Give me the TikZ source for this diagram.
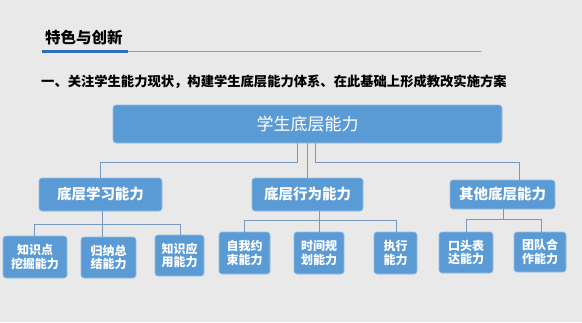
\documentclass[tikz,border=0pt]{standalone}
\usepackage{fontspec}
\setmainfont{Noto Sans CJK SC}
\definecolor{bg}{RGB}{233,233,233}
\definecolor{boxblue}{RGB}{91,155,213}
\definecolor{boxedge}{RGB}{150,190,228}
\definecolor{conn}{RGB}{120,152,190}
\definecolor{ttlblue}{RGB}{46,110,180}
\definecolor{thinblue}{RGB}{110,165,220}
\begin{document}
\begin{tikzpicture}[x=1pt,y=-1pt,
  box/.style={draw=boxedge,line width=0.6pt,fill=boxblue,rounded corners=3pt,text=white,inner sep=0pt,align=center},
  topbox/.style={box,font=\fontsize{17}{20}\selectfont},
  midbox/.style={box,font=\bfseries\fontsize{14.5}{17}\selectfont},
  leafbox/.style={box,font=\bfseries\fontsize{12}{13.5}\selectfont},
  link/.style={draw=conn,line width=1pt}]
\fill[bg] (0,0) rectangle (582,322);
\useasboundingbox (0,0) rectangle (582,322);
% title
\node[anchor=west,inner sep=0pt,font=\bfseries\fontsize{15.5}{18}\selectfont] (title) at (45,38) {特色与创新};
\coordinate (ulA) at (42,51.5);
\coordinate (ulB) at (128,51.5);
\coordinate (ulC) at (481,51.5);
\draw[thinblue,line width=1pt] (ulB) -- (ulC);
\draw[ttlblue,line width=3.5pt] (ulA) -- (ulB);
\node[anchor=west,inner sep=0pt,font=\bfseries\fontsize{13.3}{16}\selectfont] (sub) at (41,82) {一、关注学生能力现状，构建学生底层能力体系、在此基础上形成教改实施方案};
% boxes
\node[topbox,minimum width=389pt,minimum height=38pt] (top) at (307.5,124) {学生底层能力};
\node[midbox,minimum width=123pt,minimum height=33pt] (ma) at (100.5,194.5) {底层学习能力};
\node[midbox,minimum width=111pt,minimum height=33pt] (mb) at (307.5,194.5) {底层行为能力};
\node[midbox,minimum width=105pt,minimum height=29pt] (mc) at (502.5,194.5) {其他底层能力};
\node[leafbox,minimum width=64pt,minimum height=42pt] (a1) at (35,257) {知识点\\挖掘能力};
\node[leafbox,minimum width=55pt,minimum height=41pt] (a2) at (108.5,257.5) {归纳总\\结能力};
\node[leafbox,minimum width=49pt,minimum height=41pt] (a3) at (179.5,255.5) {知识应\\用能力};
\node[leafbox,minimum width=51pt,minimum height=42pt] (b1) at (244.5,253) {自我约\\束能力};
\node[leafbox,minimum width=50pt,minimum height=42pt] (b2) at (319,253) {时间规\\划能力};
\node[leafbox,minimum width=43pt,minimum height=42pt] (b3) at (395.5,253) {执行\\能力};
\node[leafbox,minimum width=54pt,minimum height=41pt] (c1) at (466,252.5) {口头表\\达能力};
\node[leafbox,minimum width=52pt,minimum height=40pt] (c2) at (540,252) {团队合\\作能力};
% connectors top -> mid
\draw[link] ([xshift=-10.5pt]top.south) -- ++(0,19) -| (ma.north);
\draw[link] (top.south) -- (mb.north);
\draw[link] ([xshift=7.5pt]top.south) -- ++(0,19) -| ([xshift=16.5pt]mc.north);
% mid a -> leaves
\draw[link] ([xshift=1.5pt]ma.south) -- ++(0,13) coordinate (ja);
\draw[link] ([xshift=-1pt]a1.north) |- (ja) -| ([xshift=0.5pt]a3.north);
\draw[link] (ja) -- ([xshift=-6.5pt]a2.north);
% mid b -> leaves
\draw[link] ([xshift=11.5pt]mb.south) -- ++(0,9) coordinate (jb);
\draw[link] ([xshift=-0.5pt]b1.north) |- (jb) -| ([xshift=0.5pt]b3.north);
\draw[link] (jb) -- (b2.north);
% mid c -> leaves
\draw[link] ([xshift=0.5pt]mc.south) -- ++(0,10) coordinate (jc);
\draw[link] (c1.north) |- (jc) -| ([xshift=1pt]c2.north);
\end{tikzpicture}
\end{document}
